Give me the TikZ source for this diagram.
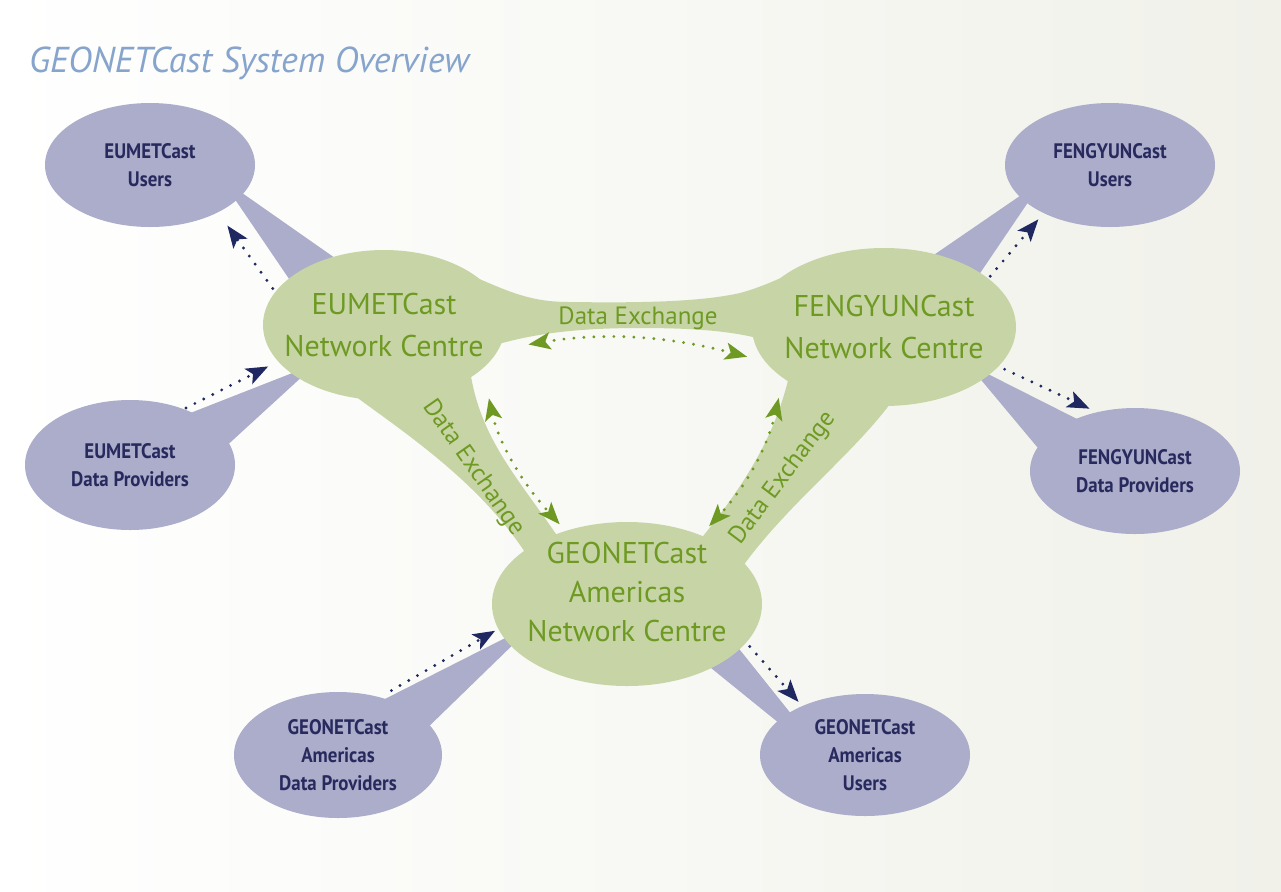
\documentclass[tikz,border=0pt]{standalone}
\usepackage{fontspec}
\setmainfont{PT Sans}
\newfontfamily\extfont{PT Sans}[FakeStretch=0.9]
\usetikzlibrary{shapes.geometric,arrows.meta}
\definecolor{lav}{HTML}{ACACCB}
\definecolor{navy}{HTML}{282A5E}
\definecolor{navyarr}{HTML}{1F2860}
\definecolor{sage}{HTML}{C7D5A6}
\definecolor{leaf}{HTML}{6E9A23}
\definecolor{sky}{HTML}{86A4CC}
\definecolor{bgR}{HTML}{F1F1EA}

\begin{document}
\begin{tikzpicture}[x=0.5pt,y=0.5pt,
  ext/.style={ellipse, fill=lav, inner sep=0pt},
  exttxt/.style={text=navy, align=center, font=\extfont\bfseries\fontsize{10.5}{14}\selectfont},
  nc/.style={ellipse, fill=sage, inner sep=0pt},
  nctxt/.style={text=leaf, align=center, font=\fontsize{15}{21}\selectfont},
  dx/.style={text=leaf, font=\fontsize{12.5}{15}\selectfont},
  flow/.style={navyarr, line width=1.6pt, line cap=round, dash pattern=on 0pt off 5pt,
    -{Stealth[length=11pt,width=8.5pt,inset=2.5pt]}},
  xchg/.style={leaf, line width=1.6pt, line cap=round, dash pattern=on 0pt off 5pt,
    {Stealth[length=11pt,width=8.5pt,inset=2.5pt]}-{Stealth[length=11pt,width=8.5pt,inset=2.5pt]}}]
\useasboundingbox (0,0) rectangle (1281,-891);
\fill[left color=white, right color=bgR] (0,0) rectangle (1281,-891);

\node[anchor=base west, text=sky, font=\fontsize{18}{21}\selectfont\itshape] (title) at (22,-72) {GEONETCast System Overview};

\fill[lav] (235,-188) -- (345,-265) -- (298,-292) -- (230,-192) -- cycle;
\fill[lav] (175,-419) -- (300,-370) -- (305,-374) -- (222,-450) -- cycle;
\fill[lav] (925,-261) -- (1030,-189) -- (1035,-192) -- (970,-288) -- cycle;
\fill[lav] (1085,-423) -- (978,-369) -- (972,-369) -- (1048,-460) -- cycle;
\fill[lav] (375,-704) -- (525,-628) -- (525,-633) -- (420,-735) -- cycle;
\fill[lav] (695,-655) -- (790,-732) -- (800,-725) -- (728,-635) -- cycle;

\fill[sage] (470,-275) .. controls (510,-292) and (530,-302) .. (570,-302)
  .. controls (640,-303) and (700,-302) .. (740,-293) .. controls (770,-285) and (795,-270) .. (820,-262)
  -- (790,-350) .. controls (760,-335) and (720,-328) .. (640,-328)
  .. controls (570,-328) and (530,-335) .. (495,-345) -- cycle;
\fill[sage] (340,-385) .. controls (400,-430) and (480,-480) .. (530,-560)
  -- (560,-540) .. controls (520,-480) and (480,-440) .. (470,-370) -- cycle;
\fill[sage] (790,-372) .. controls (775,-440) and (740,-490) .. (700,-540)
  -- (740,-570) .. controls (790,-500) and (860,-450) .. (900,-390) -- cycle;

\node[ext, minimum width=105pt, minimum height=62pt, label={[exttxt]center:EUMETCast\\Users}] (usrEu) at (150,-165) {};
\node[ext, minimum width=105pt, minimum height=65pt, label={[exttxt]center:EUMETCast\\Data Providers}] (dpEu) at (130,-465) {};
\node[ext, minimum width=105pt, minimum height=62pt, label={[exttxt]center:FENGYUNCast\\Users}] (usrFy) at (1110,-165) {};
\node[ext, minimum width=105pt, minimum height=63pt, label={[exttxt]center:FENGYUNCast\\Data Providers}] (dpFy) at (1135,-471) {};
\node[ext, minimum width=104pt, minimum height=63pt, label={[exttxt]center:GEONETCast\\Americas\\Data Providers}] (dpGc) at (338,-755) {};
\node[ext, minimum width=105pt, minimum height=61pt, label={[exttxt]center:GEONETCast\\Americas\\Users}] (usrGc) at (865,-755) {};

\node[nc, minimum width=121pt, minimum height=75pt, label={[nctxt]center:EUMETCast\\Network Centre}] (ncEu) at (384,-325) {};
\node[nc, minimum width=132pt, minimum height=79pt, label={[nctxt]center:FENGYUNCast\\Network Centre}] (ncFy) at (884,-327) {};
\node[nc, minimum width=135pt, minimum height=82pt, label={[nctxt, yshift=6pt, font=\fontsize{15}{19.5}\selectfont]center:GEONETCast\\Americas\\Network Centre}] (ncGc) at (627,-604) {};

\node[dx] (xEuFy) at (638,-318) {Data Exchange};
\node[dx, rotate=-55] (xEuGc) at (473,-468) {Data Exchange};
\node[dx, rotate=53] (xFyGc) at (783,-478) {Data Exchange};

\draw[flow, shorten <=2pt, shorten >=8pt] (ncEu.163) -- (usrEu.-35.5);
\draw[flow, shorten <=1pt, shorten >=5.4pt] (dpEu.46) -- (ncEu.199);
\draw[flow, shorten <=1.3pt, shorten >=3.9pt] (ncFy.25) -- (usrFy.216);
\draw[flow, shorten <=3.2pt, shorten >=3.9pt] (ncFy.-19) -- (dpFy.123);
\draw[flow, shorten <=6.5pt, shorten >=1.7pt] (dpGc.54) -- (ncGc.191);
\draw[flow, shorten <=2.5pt, shorten >=2.6pt] (ncGc.-18) -- (usrGc.142);

\draw[xchg, shorten <=15pt, shorten >=9pt] (ncEu.-12) to[bend left=12] (ncFy.196);
\draw[xchg, shorten <=15pt, shorten >=4.3pt] (ncEu.-24) to[bend right=15] (ncGc.130);
\draw[xchg, shorten <=10pt, shorten >=6pt] (ncFy.207.6) to[bend left=15] (ncGc.43.7);

\end{tikzpicture}
\end{document}
